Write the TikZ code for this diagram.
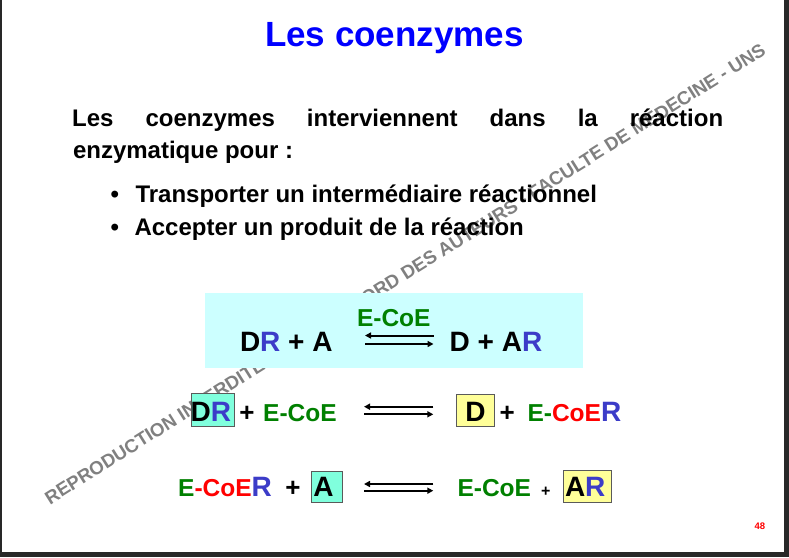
\documentclass[tikz,border=0pt]{standalone}
\usepackage{fontspec}
\setmainfont{Liberation Sans}
\usetikzlibrary{arrows.meta}
\definecolor{ttlblue}{RGB}{0,0,255}
\definecolor{rblue}{RGB}{60,60,200}
\definecolor{cgreen}{RGB}{0,128,0}
\definecolor{cred}{RGB}{255,0,0}
\definecolor{boxcyan}{RGB}{204,255,255}
\definecolor{boxaqua}{RGB}{128,255,221}
\definecolor{boxyellow}{RGB}{255,255,153}
\definecolor{boxedge}{RGB}{90,90,90}
\definecolor{wmgray}{RGB}{128,128,128}
\definecolor{framegray}{RGB}{40,40,40}
\newcommand{\fz}[1]{\fontsize{#1pt}{#1pt}\selectfont\bfseries}
\tikzset{
  txt/.style={anchor=base west, inner sep=0pt, outer sep=0pt},
  eqarr/.style={line width=2pt, -{Triangle[length=6pt,width=6pt]}},
  aquabox/.style={draw=boxedge, line width=1.2pt, fill=boxaqua, inner sep=0pt},
  yellbox/.style={draw=boxedge, line width=1.2pt, fill=boxyellow, inner sep=0pt},
}
\begin{document}
\begin{tikzpicture}[x=1pt,y=-1pt]
\useasboundingbox (0,0) rectangle (789,557);
\fill[white] (0,0) rectangle (789,557);
% watermark
\node[txt, rotate=32.2] (wm) at (50,505) {\fz{18.7}\color{wmgray}REPRODUCTION INTERDITE SANS L'ACCORD DES AUTEURS - FACULTE DE MEDECINE - UNS};
% title
\node[anchor=base, inner sep=0pt] (title) at (394.5,46) {\fz{35}\color{ttlblue}Les coenzymes};
% body text
\node[txt] (l1) at (72.2,126.5) {\fz{24}\makebox[651pt][s]{Les coenzymes interviennent dans la réaction}};
\node[txt] (l2) at (73,158) {\fz{24}enzymatique pour :};
\node[txt] (b1) at (110.5,202) {\fz{24}•};
\node[txt] (i1) at (135.5,202) {\fz{24}Transporter un intermédiaire réactionnel};
\node[txt] (b2) at (110.5,235) {\fz{24}•};
\node[txt] (i2) at (134.5,235) {\fz{24}Accepter un produit de la réaction};
% row 1
\node[fill=boxcyan, inner sep=0pt, minimum width=378pt, minimum height=75.5pt] (cyan) at (394,330.25) {};
\node[txt] (t1a) at (240,351) {\fz{28}D\textcolor{rblue}{R} + A};
\node[txt] (t1e) at (357,326) {\fz{24.5}\color{cgreen}E-CoE};
\node[txt] (t1b) at (449.7,351) {\fz{28}D + A\textcolor{rblue}{R}};
\coordinate (u1l) at (365,335.5);
\coordinate (u1r) at (433.5,335.5);
\coordinate (d1l) at (365,344);
\coordinate (d1r) at (433.5,344);
\draw[eqarr] (u1r) -- (u1l);
\draw[eqarr] (d1l) -- (d1r);
% row 2
\node[aquabox, minimum width=43.3pt, minimum height=32.4pt] (bDR) at (212.85,410) {};
\node[txt] (t2dr) at (190.7,421) {\fz{28}D\textcolor{rblue}{R}};
\node[txt] (t2p) at (239.4,421) {\fz{26}+};
\node[txt] (t2e) at (263.2,421) {\fz{24.5}\color{cgreen}E-CoE};
\coordinate (u2l) at (364,406.7);
\coordinate (u2r) at (433.3,406.7);
\coordinate (d2l) at (364,414.3);
\coordinate (d2r) at (433.3,414.3);
\draw[eqarr] (u2r) -- (u2l);
\draw[eqarr] (d2l) -- (d2r);
\node[yellbox, minimum width=38.3pt, minimum height=31.7pt] (bD) at (475.35,410.35) {};
\node[txt] (t2d) at (465.3,421) {\fz{28}D};
\node[txt] (t2p2) at (499.7,421) {\fz{26}+};
\node[txt] (t2er) at (527.5,421) {\fz{24.5}\textcolor{cgreen}{E-}\textcolor{cred}{CoE}{\fz{28}\textcolor{rblue}{R}}};
% row 3
\node[txt] (t3er) at (178.2,496.7) {\fz{24.5}\textcolor{cgreen}{E}\textcolor{cred}{-CoE}{\fz{28}\textcolor{rblue}{R}}};
\node[txt] (t3p) at (285.4,496.7) {\fz{26}+};
\node[aquabox, minimum width=31.6pt, minimum height=31.6pt] (bA) at (327,487) {};
\node[txt] (t3a) at (313.3,496.7) {\fz{28}A};
\coordinate (u3l) at (364,484);
\coordinate (u3r) at (433.3,484);
\coordinate (d3l) at (364,490.7);
\coordinate (d3r) at (433.3,490.7);
\draw[eqarr] (u3r) -- (u3l);
\draw[eqarr] (d3l) -- (d3r);
\node[txt] (t3e) at (457.5,496.7) {\fz{24.5}\color{cgreen}E-CoE};
\node[txt] (t3p2) at (541,496) {\fz{16}+};
\node[yellbox, minimum width=48pt, minimum height=32.3pt] (bAR) at (587.8,486.65) {};
\node[txt] (t3ar) at (565,496.7) {\fz{28}A\textcolor{rblue}{R}};
% page number
\node[txt] (pg) at (754.5,529.3) {\fontsize{9.5pt}{9.5pt}\selectfont\bfseries\color{cred}48};
% frame
\fill[framegray] (0,0) rectangle (2,557);
\fill[framegray] (784,0) rectangle (789,557);
\fill[framegray] (0,552) rectangle (789,557);
\end{tikzpicture}
\end{document}
